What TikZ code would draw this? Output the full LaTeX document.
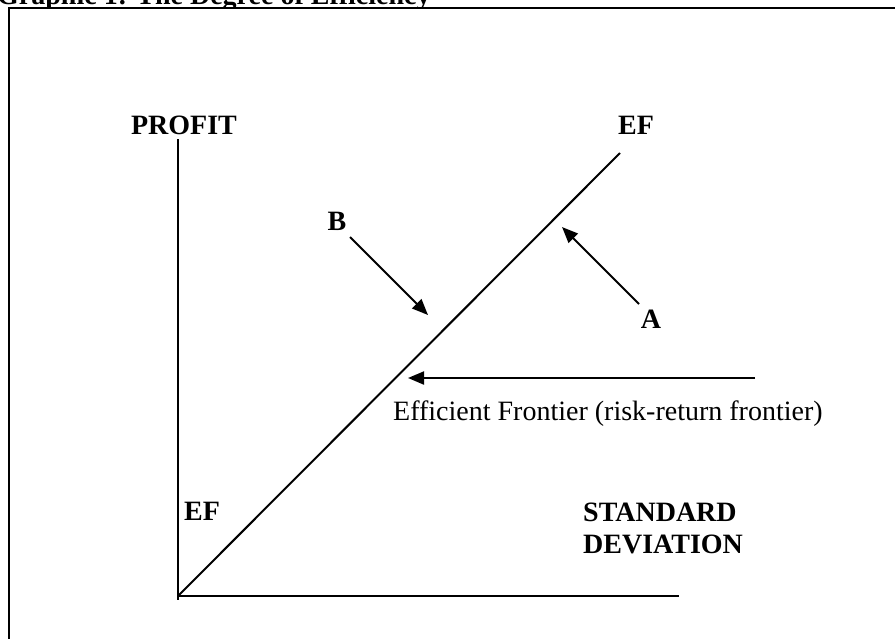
\documentclass[tikz,border=0pt]{standalone}
\usepackage{fontspec}
\setmainfont{Liberation Serif}
\usetikzlibrary{arrows.meta}
\begin{document}
\begin{tikzpicture}[x=1pt,y=-1pt,
  lbl/.style={inner sep=0pt,font=\fontsize{28}{32}\selectfont\bfseries},
  plain/.style={inner sep=0pt,font=\fontsize{28}{32}\selectfont},
  axis/.style={line width=2pt},
  ptr/.style={line width=2pt,-{Triangle[length=16pt,width=13pt]}}]
\useasboundingbox (0,0) rectangle (895,638);
\begin{scope}
  \clip (0,0) rectangle (895,7);
  \node[lbl,anchor=base west] (title) at (-3,4.5) {Graphic 1: The Degree of Efficiency};
\end{scope}
\draw[line width=2.5pt] (9,8) rectangle (910,660);
% axes
\coordinate (ytop) at (178,139);
\coordinate (ybot) at (178,600);
\coordinate (O) at (178,596);
\coordinate (xend) at (679,596);
\coordinate (eftop) at (620,153);
\draw[axis] (ytop) -- (ybot);
\draw[axis] (O) -- (xend);
\draw[axis] (O) -- (eftop);
% labels
\node[lbl,anchor=base] (profit) at (184,134) {PROFIT};
\node[lbl,anchor=base] (ef1) at (636,134) {EF};
\node[lbl,anchor=base] (B) at (337,230) {B};
\node[lbl,anchor=base] (A) at (651,328) {A};
\node[lbl,anchor=base west] (ef2) at (184,520) {EF};
\node[lbl,anchor=base west] (sd1) at (583,521) {STANDARD};
\node[lbl,anchor=base west] (sd2) at (583,553) {DEVIATION};
\node[plain,anchor=base west] (eff) at (393,420) {Efficient Frontier (risk-return frontier)};
% arrows
\coordinate (bs) at (350,237);
\coordinate (bt) at (428,315);
\coordinate (as) at (639,304);
\coordinate (at) at (562,227);
\coordinate (es) at (755,378);
\coordinate (et) at (408,378);
\draw[ptr] (bs) -- (bt);
\draw[ptr] (as) -- (at);
\draw[ptr] (es) -- (et);
\end{tikzpicture}
\end{document}
